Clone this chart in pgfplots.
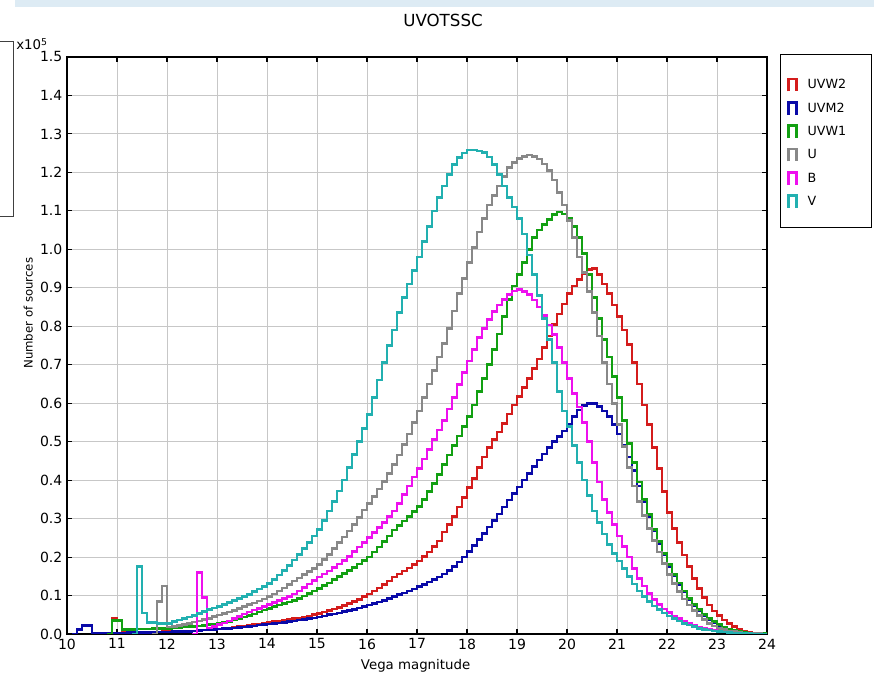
\documentclass[border=0pt]{standalone}
\usepackage{fontspec}
\setmainfont{DejaVu Sans}
\usepackage{pgfplots}
\usepackage{pgfplotstable}
\pgfplotsset{compat=1.18}
\definecolor{cuvwtwo}{HTML}{D41C1C}
\definecolor{cuvmtwo}{HTML}{0A0AA8}
\definecolor{cuvwone}{HTML}{12A012}
\definecolor{cu}{HTML}{888888}
\definecolor{cb}{HTML}{EE10EE}
\definecolor{cv}{HTML}{22B0B0}
\definecolor{band}{HTML}{DDEBF4}

% histogram counts per 0.1 mag bin (left edge), units of 1e5 sources
\pgfplotstableread{
m uvw2 uvm2 uvw1 u b v
10.0 0 0 0 0 0 0
10.1 0 0 0 0 0 0
10.2 0 0.012 0 0 0 0
10.3 0 0.022 0 0 0 0
10.4 0 0.022 0 0 0 0
10.5 0 0.003 0 0 0 0
10.6 0 0.003 0 0 0 0
10.7 0 0.003 0 0 0 0
10.8 0 0.003 0 0 0 0
10.9 0.040 0.003 0.035 0 0 0
11.0 0.036 0.003 0.035 0 0 0
11.1 0.004 0.003 0.012 0 0 0
11.2 0.004 0.004 0.012 0 0 0
11.3 0.004 0.004 0.012 0 0 0
11.4 0.004 0.004 0.013 0 0 0.175
11.5 0.004 0.004 0.013 0 0 0.055
11.6 0.005 0.004 0.013 0 0 0.030
11.7 0.005 0.005 0.014 0 0 0.030
11.8 0.005 0.005 0.014 0.085 0 0.028
11.9 0.006 0.005 0.015 0.125 0 0.028
12.0 0.006 0.005 0.015 0.018 0 0.028
12.1 0.006 0.006 0.016 0.020 0 0.032
12.2 0.007 0.006 0.017 0.022 0 0.036
12.3 0.007 0.007 0.018 0.025 0 0.040
12.4 0.008 0.007 0.019 0.028 0 0.044
12.5 0.008 0.008 0.020 0.031 0 0.048
12.6 0.009 0.009 0.021 0.034 0.160 0.053
12.7 0.010 0.010 0.022 0.037 0.095 0.058
12.8 0.011 0.011 0.024 0.041 0.016 0.063
12.9 0.012 0.012 0.026 0.045 0.019 0.068
13.0 0.013 0.013 0.028 0.049 0.024 0.072
13.1 0.014 0.014 0.030 0.053 0.029 0.077
13.2 0.016 0.015 0.033 0.057 0.034 0.082
13.3 0.017 0.016 0.036 0.061 0.040 0.087
13.4 0.019 0.017 0.040 0.066 0.046 0.092
13.5 0.020 0.018 0.044 0.071 0.052 0.097
13.6 0.022 0.020 0.048 0.076 0.057 0.103
13.7 0.024 0.021 0.052 0.081 0.062 0.110
13.8 0.026 0.023 0.057 0.086 0.067 0.117
13.9 0.028 0.024 0.062 0.091 0.072 0.124
14.0 0.030 0.026 0.067 0.097 0.077 0.132
14.1 0.032 0.027 0.071 0.104 0.082 0.142
14.2 0.034 0.029 0.075 0.112 0.087 0.153
14.3 0.036 0.030 0.079 0.120 0.092 0.165
14.4 0.038 0.032 0.083 0.129 0.098 0.178
14.5 0.040 0.034 0.087 0.138 0.104 0.192
14.6 0.042 0.036 0.093 0.146 0.112 0.207
14.7 0.044 0.038 0.099 0.154 0.121 0.222
14.8 0.047 0.040 0.105 0.162 0.130 0.238
14.9 0.050 0.042 0.112 0.171 0.139 0.255
15.0 0.053 0.044 0.119 0.180 0.148 0.272
15.1 0.057 0.047 0.126 0.193 0.156 0.295
15.2 0.061 0.050 0.133 0.207 0.164 0.320
15.3 0.065 0.052 0.141 0.222 0.173 0.345
15.4 0.069 0.055 0.149 0.237 0.182 0.372
15.5 0.074 0.058 0.157 0.252 0.191 0.400
15.6 0.079 0.061 0.165 0.268 0.202 0.433
15.7 0.084 0.064 0.173 0.285 0.214 0.467
15.8 0.090 0.068 0.182 0.303 0.226 0.500
15.9 0.097 0.071 0.191 0.322 0.238 0.535
16.0 0.104 0.075 0.200 0.340 0.250 0.570
16.1 0.112 0.079 0.213 0.358 0.263 0.615
16.2 0.120 0.083 0.226 0.377 0.276 0.660
16.3 0.129 0.087 0.240 0.397 0.290 0.705
16.4 0.138 0.092 0.255 0.418 0.305 0.750
16.5 0.148 0.097 0.270 0.440 0.320 0.790
16.6 0.156 0.102 0.282 0.465 0.340 0.835
16.7 0.164 0.107 0.294 0.492 0.362 0.875
16.8 0.172 0.112 0.306 0.520 0.385 0.910
16.9 0.181 0.117 0.318 0.550 0.408 0.945
17.0 0.190 0.123 0.332 0.580 0.430 0.980
17.1 0.201 0.129 0.350 0.615 0.455 1.020
17.2 0.213 0.135 0.370 0.650 0.480 1.060
17.3 0.227 0.141 0.392 0.685 0.505 1.100
17.4 0.242 0.148 0.415 0.720 0.530 1.135
17.5 0.265 0.156 0.440 0.755 0.555 1.165
17.6 0.285 0.165 0.465 0.795 0.585 1.195
17.7 0.305 0.175 0.490 0.840 0.615 1.220
17.8 0.330 0.187 0.515 0.885 0.648 1.238
17.9 0.355 0.200 0.540 0.925 0.680 1.250
18.0 0.380 0.215 0.565 0.965 0.710 1.258
18.1 0.405 0.230 0.595 1.005 0.740 1.258
18.2 0.432 0.245 0.630 1.045 0.770 1.256
18.3 0.460 0.262 0.665 1.080 0.795 1.252
18.4 0.485 0.278 0.700 1.115 0.818 1.240
18.5 0.505 0.295 0.740 1.140 0.838 1.220
18.6 0.525 0.312 0.780 1.165 0.855 1.195
18.7 0.548 0.330 0.825 1.190 0.870 1.165
18.8 0.572 0.348 0.870 1.212 0.883 1.135
18.9 0.595 0.365 0.905 1.226 0.892 1.110
19.0 0.617 0.382 0.935 1.236 0.895 1.080
19.1 0.640 0.400 0.965 1.242 0.890 1.040
19.2 0.665 0.418 1.000 1.245 0.882 0.985
19.3 0.690 0.436 1.030 1.242 0.868 0.935
19.4 0.715 0.452 1.050 1.235 0.850 0.880
19.5 0.745 0.468 1.065 1.222 0.828 0.820
19.6 0.775 0.484 1.078 1.205 0.803 0.765
19.7 0.805 0.500 1.090 1.180 0.778 0.705
19.8 0.832 0.514 1.097 1.148 0.745 0.630
19.9 0.858 0.528 1.092 1.115 0.705 0.580
20.0 0.885 0.545 1.080 1.075 0.665 0.540
20.1 0.905 0.565 1.060 1.030 0.625 0.490
20.2 0.922 0.582 1.030 0.980 0.590 0.445
20.3 0.937 0.594 0.990 0.940 0.550 0.400
20.4 0.947 0.600 0.935 0.890 0.500 0.360
20.5 0.950 0.600 0.875 0.835 0.445 0.320
20.6 0.935 0.592 0.820 0.775 0.395 0.290
20.7 0.910 0.580 0.765 0.705 0.350 0.260
20.8 0.885 0.565 0.720 0.650 0.315 0.232
20.9 0.855 0.545 0.670 0.600 0.285 0.210
21.0 0.825 0.520 0.615 0.545 0.255 0.190
21.1 0.790 0.490 0.555 0.488 0.228 0.170
21.2 0.752 0.460 0.495 0.432 0.200 0.150
21.3 0.705 0.425 0.445 0.385 0.170 0.130
21.4 0.650 0.385 0.395 0.345 0.145 0.112
21.5 0.595 0.345 0.350 0.308 0.125 0.097
21.6 0.545 0.305 0.310 0.275 0.106 0.085
21.7 0.485 0.268 0.272 0.243 0.090 0.073
21.8 0.430 0.235 0.240 0.213 0.076 0.063
21.9 0.370 0.205 0.210 0.183 0.065 0.055
22.0 0.315 0.176 0.180 0.155 0.056 0.047
22.1 0.275 0.151 0.155 0.131 0.047 0.040
22.2 0.238 0.129 0.133 0.110 0.040 0.034
22.3 0.205 0.109 0.112 0.091 0.033 0.028
22.4 0.175 0.090 0.093 0.075 0.027 0.023
22.5 0.145 0.074 0.077 0.061 0.022 0.019
22.6 0.118 0.060 0.063 0.048 0.018 0.015
22.7 0.095 0.048 0.051 0.037 0.014 0.012
22.8 0.075 0.038 0.041 0.028 0.011 0.010
22.9 0.060 0.030 0.032 0.021 0.009 0.008
23.0 0.048 0.022 0.024 0.015 0.007 0.006
23.1 0.036 0.016 0.018 0.011 0.005 0.005
23.2 0.027 0.012 0.013 0.008 0.004 0.004
23.3 0.019 0.008 0.009 0.006 0.003 0.003
23.4 0.013 0.005 0.006 0.004 0.002 0.002
23.5 0.008 0.003 0.004 0.003 0.001 0.001
23.6 0.005 0.002 0.003 0.002 0.001 0.001
23.7 0.003 0.001 0.002 0.001 0 0
23.8 0.002 0.001 0.001 0.001 0 0
23.9 0.001 0 0.001 0 0 0
24.0 0 0 0 0 0 0
}\hist

\begin{document}
\begin{tikzpicture}
\useasboundingbox (0,0) rectangle (655.5pt,507.75pt);
% screen decorations, in pixel units from the top left
\begin{scope}[x=0.75pt,y=-0.75pt,shift={(0pt,507.75pt)}]
\fill[band] (15,0) rectangle (874,7);
\draw[black!75,line width=0.75pt] (0,42) -- (13,42) -- (13,217) -- (0,217);
\node[anchor=base west,inner sep=0pt,font=\fontsize{10}{12}\selectfont] at (16,50) {x10\textsuperscript{5}};
\node[font=\fontsize{12.5}{14}\selectfont] at (443,20) {UVOTSSC};
\draw[black,line width=0.75pt] (780,55) rectangle (871,228);
\end{scope}
\begin{axis}[
scale only axis,width=525pt,height=432.75pt,
at={(50.25pt,32.25pt)},anchor=south west,
xmin=10,xmax=24,ymin=0,ymax=1.5,
xtick={10,11,...,24},
ytick={0,0.1,0.2,0.3,0.4,0.5,0.6,0.7,0.8,0.9,1.0,1.1,1.2,1.3,1.4,1.5},
/pgf/number format/assume math mode=true,
yticklabel style={/pgf/number format/.cd,fixed,fixed zerofill,precision=1},
tick label style={font=\fontsize{10.5}{12}\selectfont},
xmajorgrids,ymajorgrids,grid style={color=black!22,line width=0.7pt},
tick align=inside,major tick length=4pt,
tick style={black,line width=0.8pt},
axis line style={black,line width=1pt},
xlabel={Vega magnitude},ylabel={Number of sources},
xlabel style={at={(axis description cs:0.498,-0.0555)},anchor=center,font=\fontsize{10}{12}\selectfont},
ylabel style={at={(axis description cs:-0.0553,0.556)},anchor=center,font=\fontsize{8.8}{10}\selectfont},
every axis plot/.append style={const plot mark left,no marks,line width=2pt,line join=miter},
legend image code/.code={\draw[#1,line width=2pt] (0pt,-4.6pt) -- (0pt,4.6pt) -- (5.8pt,4.6pt) -- (5.8pt,-4.6pt);},
legend style={at={(axis description cs:1.0286,0.966)},anchor=north west,draw=none,fill=none,inner sep=0pt,
  font=\fontsize{9.5}{10}\selectfont,row sep=5pt,/tikz/every odd column/.append style={column sep=5.5pt}},
legend cell align=left]
\addplot[color=cuvwtwo,restrict x to domain=10.75:24.05] table[x=m,y=uvw2]{\hist};
\addlegendentry{UVW2}
\addplot[color=cuvmtwo,restrict x to domain=10.05:24.05] table[x=m,y=uvm2]{\hist};
\addlegendentry{UVM2}
\addplot[color=cuvwone,restrict x to domain=10.75:24.05] table[x=m,y=uvw1]{\hist};
\addlegendentry{UVW1}
\addplot[color=cu,restrict x to domain=11.65:24.05] table[x=m,y=u]{\hist};
\addlegendentry{U}
\addplot[color=cb,restrict x to domain=12.45:24.05] table[x=m,y=b]{\hist};
\addlegendentry{B}
\addplot[color=cv,restrict x to domain=11.25:24.05] table[x=m,y=v]{\hist};
\addlegendentry{V}
\end{axis}
\end{tikzpicture}
\end{document}
